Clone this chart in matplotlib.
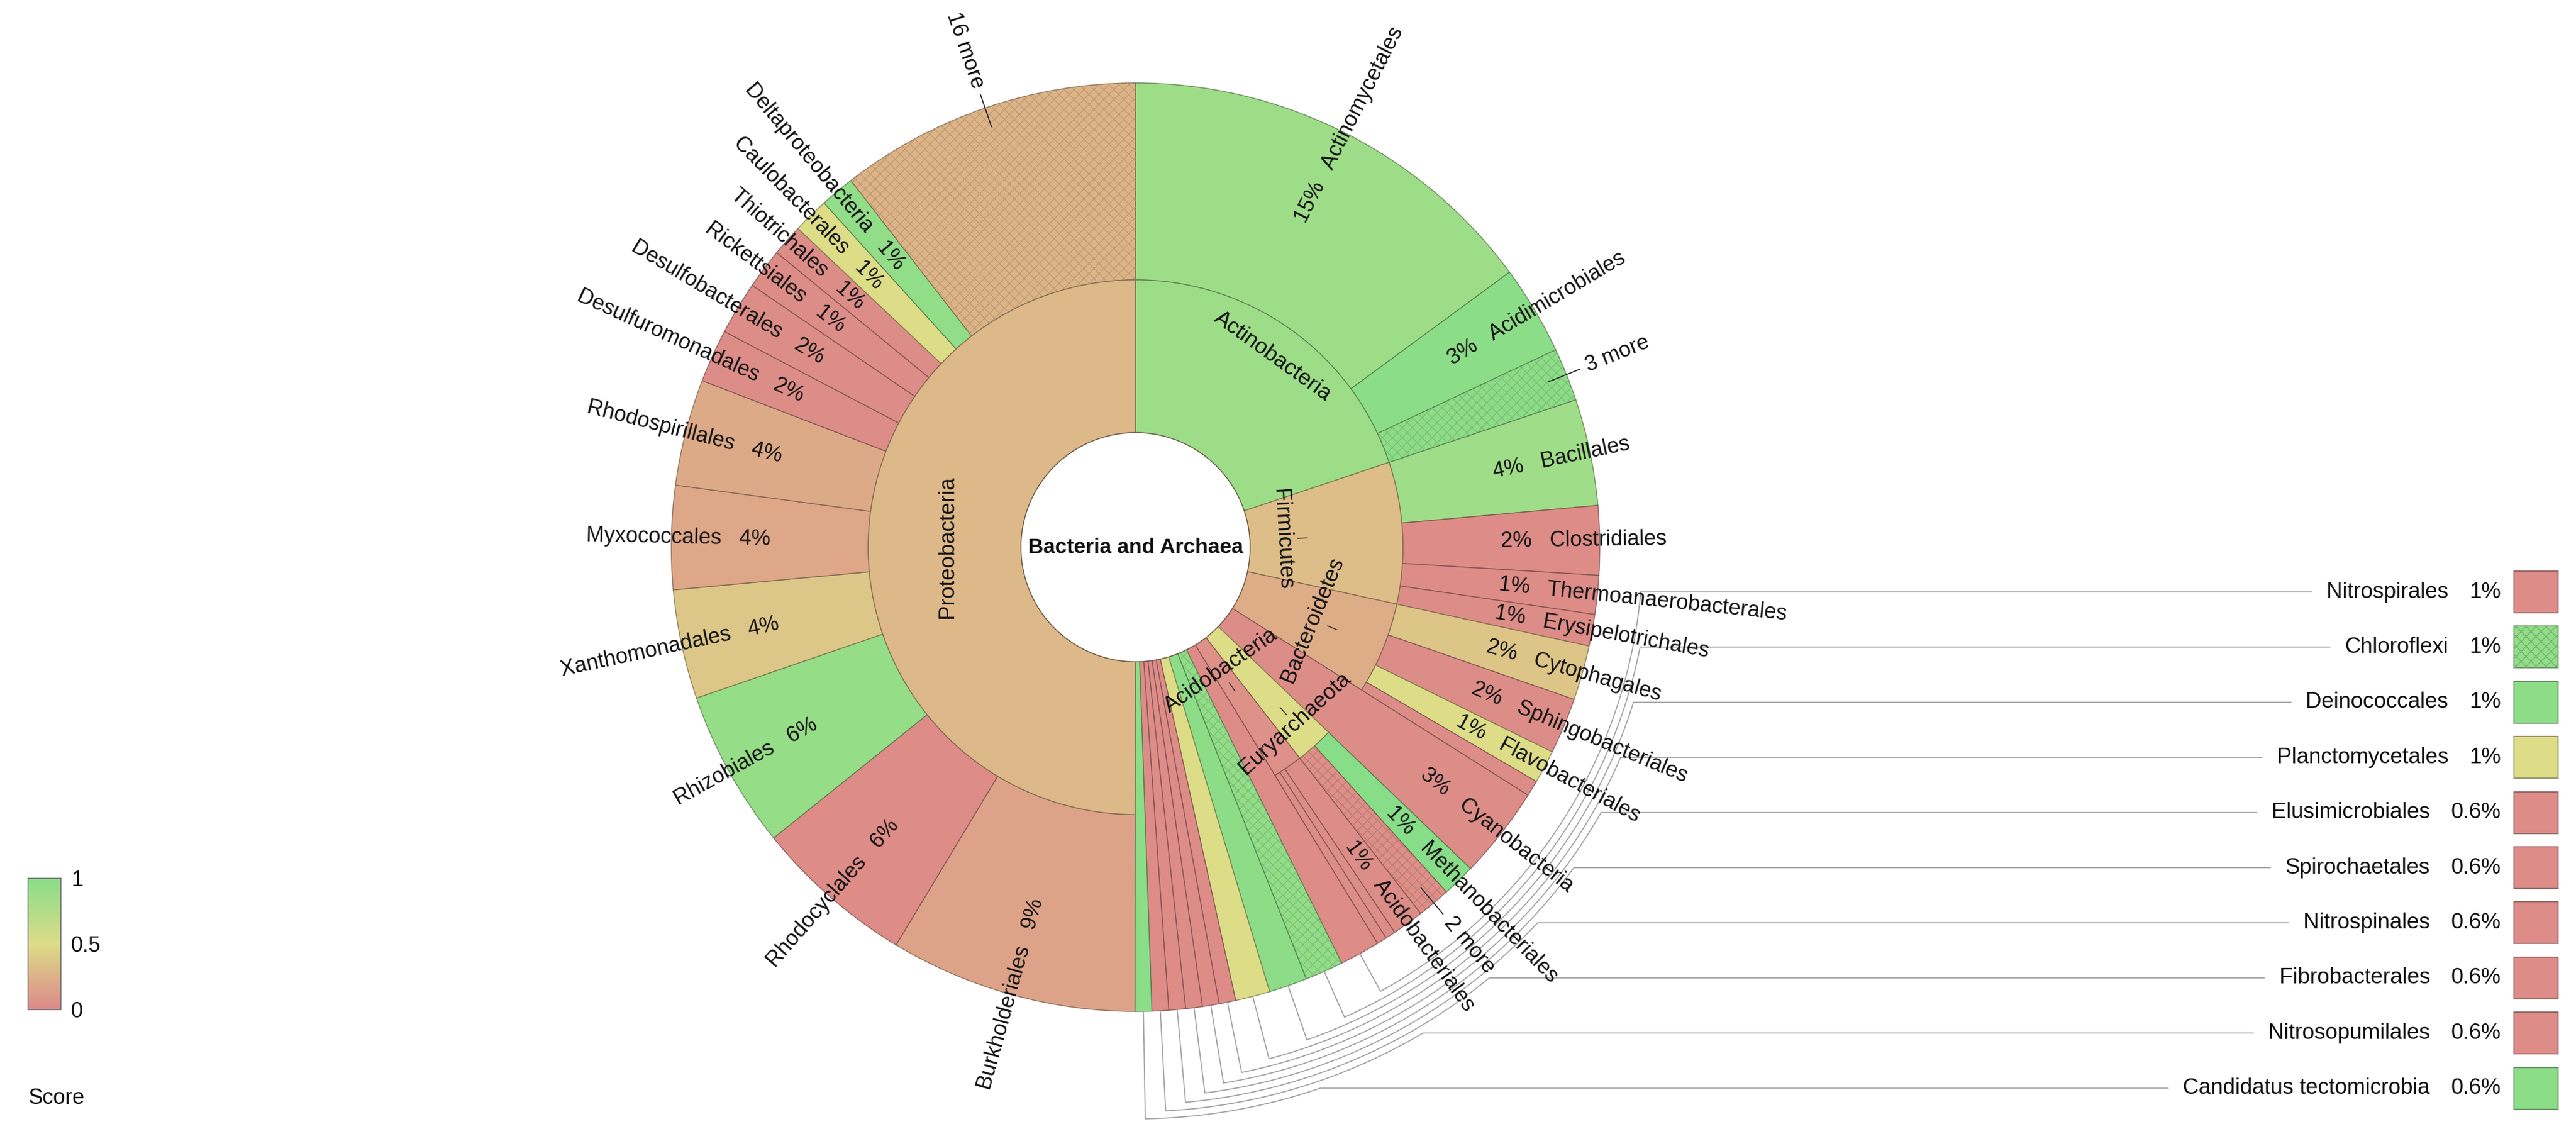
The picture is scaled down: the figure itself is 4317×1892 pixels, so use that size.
import colorsys
import numpy as np
import matplotlib
matplotlib.use("Agg")
import matplotlib.pyplot as plt
from matplotlib.patches import Wedge, Circle, Rectangle

plt.rcParams['font.family'] = ['Liberation Sans', 'DejaVu Sans']
plt.rcParams['hatch.linewidth'] = 1.0

# ---- data (percent of all reads, score 0..1) ----
phyla = ["Actinobacteria", "Firmicutes", "Bacteroidetes", "Cyanobacteria",
         "Euryarchaeota", "Acidobacteria", "Nitrospirales", "Chloroflexi",
         "Deinococcales", "Planctomycetales", "Elusimicrobiales", "Spirochaetales",
         "Nitrospinales", "Fibrobacterales", "Nitrosopumilales",
         "Candidatus tectomicrobia", "Proteobacteria"]
phylum_score = [0.88, 0.32, 0.22, 0.03, 0.5, 0.05, 0.02, 0.95, 0.97, 0.5,
                0.02, 0.02, 0.02, 0.02, 0.02, 0.98, 0.28]
# only phyla drawn without orders carry their own value
phylum_leaf_pct = [0, 0, 0, 3.2, 0, 0, 1.4, 1.33, 1.33, 1.2,
                   0.58, 0.58, 0.58, 0.58, 0.58, 0.58, 0]

order_phylum = (["Actinobacteria"] * 3 + ["Firmicutes"] * 4 + ["Bacteroidetes"] * 4
                + ["Euryarchaeota"] * 2 + ["Acidobacteria"] * 3 + ["Proteobacteria"] * 13)
order_names = ["Actinomycetales", "Acidimicrobiales", "3 more",
               "Bacillales", "Clostridiales", "Thermoanaerobacterales", "Erysipelotrichales",
               "Cytophagales", "Sphingobacteriales", "Flavobacteriales", "",
               "Methanobacteriales", "2 more",
               "Acidobacteriales", "", "",
               "Burkholderiales", "Rhodocyclales", "Rhizobiales", "Xanthomonadales",
               "Myxococcales", "Rhodospirillales", "Desulfuromonadales", "Desulfobacterales",
               "Rickettsiales", "Thiotrichales", "Caulobacterales", "Deltaproteobacteria",
               "16 more"]
order_pct = [14.9, 3.1, 1.85,
             3.7, 2.4, 1.35, 1.1,
             1.9, 1.95, 1.15, 0.55,
             1.15, 1.15,
             1.1, 0.35, 0.35,
             8.6, 5.6, 5.5, 3.8, 3.6, 3.7, 1.85, 1.85, 1.4, 1.1, 1.25, 1.2, 10.5]
order_score = [0.87, 0.98, 0.97,
               0.86, 0.02, 0.02, 0.03,
               0.36, 0.03, 0.5, 0.03,
               1.0, 0.04,
               0.03, 0.03, 0.03,
               0.16, 0.02, 0.92, 0.37, 0.18, 0.2, 0.03, 0.03, 0.03, 0.03, 0.5, 0.95, 0.26]

hatched = ["3 more", "2 more", "16 more", "Chloroflexi"]
legend_names = phyla[6:16]
root_name = "Bacteria and Archaea"
cbar_ticks = ["1", "0.5", "0"]

# ---- layout (pixels) ----
W, H = 4317, 1892
CX, CY = 1903, 917
R0, R1, R2 = 192, 448, 778
LABEL_R = 612
inner_label_r = {"Actinobacteria": 394, "Firmicutes": 246, "Bacteroidetes": 321,
                 "Euryarchaeota": 398, "Acidobacteria": 252, "Proteobacteria": 315}
inner_ticks = {"Firmicutes": 34, "Bacteroidetes": 35, "Acidobacteria": 33, "Euryarchaeota": -28}
FS = 26


def score_color(s):
    r, g, b = colorsys.hls_to_rgb(s / 3.0, 0.70, 0.55)
    return (r, g, b)


def dark(c, f=0.55, a=0.8):
    return (c[0] * f, c[1] * f, c[2] * f, a)


def pt(theta, r):
    t = np.radians(theta)
    return CX + r * np.sin(t), CY - r * np.cos(t)


def fmt(p):
    return f"{p:.0f}%" if p >= 1 else f"{p:.1f}%"


fig = plt.figure(figsize=(W / 100, H / 100), dpi=100)
ax = fig.add_axes([0, 0, 1, 1])
ax.set_xlim(0, W)
ax.set_ylim(H, 0)
ax.axis('off')


def draw_wedge(t1, t2, r_in, r_out, color, hatch=False):
    ax.add_patch(Wedge((CX, CY), r_out, t1 - 90, t2 - 90, width=r_out - r_in,
                       facecolor=color, edgecolor=dark(color), linewidth=1.1))
    if hatch:
        ax.add_patch(Wedge((CX, CY), r_out, t1 - 90, t2 - 90, width=r_out - r_in,
                           facecolor='none', edgecolor=dark(color, 0.86, 1.0), linewidth=0,
                           hatch='xx'))


def outer_label(theta, name, pct):
    x, y = pt(theta, LABEL_R)
    if theta < 180:
        ax.text(x, y, f"{fmt(pct)}   {name}", rotation=90 - theta, rotation_mode='anchor',
                ha='left', va='center', fontsize=FS, color='#111111')
    else:
        ax.text(x, y, f"{name}   {fmt(pct)}", rotation=270 - theta, rotation_mode='anchor',
                ha='right', va='center', fontsize=FS, color='#111111')


def more_label(theta, name):
    x0, y0 = pt(theta, 745)
    x1, y1 = pt(theta, 802)
    ax.plot([x0, x1], [y0, y1], color='#222222', lw=1.3)
    x, y = pt(theta, 814)
    if theta < 180:
        ax.text(x, y, name, rotation=90 - theta, rotation_mode='anchor',
                ha='left', va='center', fontsize=FS, color='#111111')
    else:
        ax.text(x, y, name, rotation=270 - theta, rotation_mode='anchor',
                ha='right', va='center', fontsize=FS, color='#111111')


total = sum(order_pct) + sum(phylum_leaf_pct)
deg = 360.0 / total
centers = {}
theta = 0.0
for i, ph in enumerate(phyla):
    kids = [j for j, p in enumerate(order_phylum) if p == ph]
    pcol = score_color(phylum_score[i])
    if not kids:
        t2 = theta + phylum_leaf_pct[i] * deg
        draw_wedge(theta, t2, R0, R2, pcol, ph in hatched)
        centers[ph] = (theta + t2) / 2
        if ph not in legend_names:
            outer_label((theta + t2) / 2, ph, phylum_leaf_pct[i])
        theta = t2
        continue
    start = theta
    for j in kids:
        t2 = theta + order_pct[j] * deg
        name = order_names[j]
        draw_wedge(theta, t2, R1, R2, score_color(order_score[j]), name in hatched)
        tc = (theta + t2) / 2
        if name.endswith("more"):
            more_label(tc, name)
        elif name:
            outer_label(tc, name, order_pct[j])
        theta = t2
    draw_wedge(start, theta, R0, R1, pcol)
    tc = (start + theta) / 2
    rot = (-tc) % 360
    if 90 <= rot < 270:
        rot -= 180
    x, y = pt(tc, inner_label_r[ph])
    ax.text(x, y, ph, rotation=rot, rotation_mode='anchor', ha='center', va='center',
            fontsize=FS + 0.5, color='#111111')
    if ph in inner_ticks:
        rr = inner_label_r[ph] + inner_ticks[ph]
        xa, ya = pt(tc, rr - 8)
        xb, yb = pt(tc, rr + 8)
        ax.plot([xa, xb], [ya, yb], color='#333333', lw=1.2)

# centre
ax.add_patch(Circle((CX, CY), R0, facecolor='white', edgecolor='#6b5a48', linewidth=1.1))
ax.text(CX, CY, root_name, ha='center', va='center', fontsize=FS - 0.5,
        fontweight='bold', color='#111111')

# ---- legend for tiny wedges ----
fig.canvas.draw()
renderer = fig.canvas.get_renderer()
for k, name in enumerate(legend_names):
    i = phyla.index(name)
    col = score_color(phylum_score[i])
    y = 992 + 92.4 * k
    ax.add_patch(Rectangle((4213, y - 35), 74, 70, facecolor=col, edgecolor=dark(col),
                           linewidth=1.3))
    if name in hatched:
        ax.add_patch(Rectangle((4213, y - 35), 74, 70, facecolor='none',
                               edgecolor=dark(col, 0.8, 1.0), linewidth=0, hatch='xx'))
    tp = ax.text(4191, y, fmt(phylum_leaf_pct[i]), ha='right', va='center',
                 fontsize=FS + 0.5, color='#111111')
    px0 = tp.get_window_extent(renderer).x0
    tn = ax.text(px0 - 35, y, name, ha='right', va='center', fontsize=FS + 0.5,
                 color='#111111')
    nx0 = tn.get_window_extent(renderer).x0
    rk = 850 + 12.0 * k
    dy = y - CY
    xh = CX + np.sqrt(rk ** 2 - dy ** 2)
    th = np.degrees(np.arctan2(xh - CX, -dy))
    tw = centers[name]
    arc = np.linspace(th, tw, 120)
    ax_, ay_ = pt(arc, rk)
    sx, sy = pt(tw, R2)
    xs = np.concatenate([[nx0 - 25], ax_, [sx]])
    ys = np.concatenate([[y], ay_, [sy]])
    ax.plot(xs, ys, color='#a0a0a0', lw=1.3, solid_joinstyle='miter')

# ---- score colour bar ----
CB_X0, CB_X1, CB_Y0, CB_Y1 = 47, 102, 1472, 1692
vals = np.linspace(1, 0, 256)
grad = np.array([[score_color(v)] for v in vals])
ax.imshow(grad, extent=(CB_X0, CB_X1, CB_Y1, CB_Y0), origin='upper', aspect='auto', zorder=2)
ax.add_patch(Rectangle((CB_X0, CB_Y0), CB_X1 - CB_X0, CB_Y1 - CB_Y0, fill=False,
                       edgecolor='#777777', linewidth=1.3, zorder=3))
for v, yy in zip(cbar_ticks, np.linspace(CB_Y0, CB_Y1, len(cbar_ticks))):
    ax.text(119, yy + 3, v, ha='left', va='center', fontsize=FS, color='#111111')
ax.text(47, 1840, "Score", ha='left', va='center', fontsize=FS, color='#111111')
ax.set_xlim(0, W)
ax.set_ylim(H, 0)

fig.savefig("out.png", dpi=100, facecolor='white')
